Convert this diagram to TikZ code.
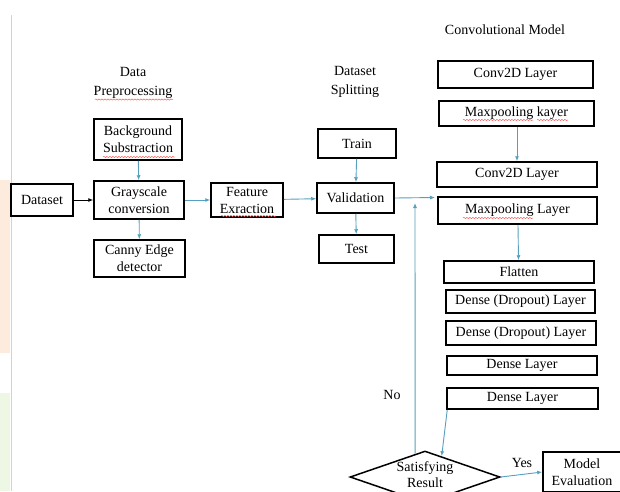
\documentclass[tikz,border=0pt]{standalone}
\usepackage{fontspec}
\setmainfont{Liberation Serif}
\usetikzlibrary{arrows.meta,shapes.geometric,calc,decorations.pathmorphing}
\definecolor{arr}{RGB}{84,160,190}
\definecolor{orangebg}{RGB}{253,236,222}
\definecolor{greenbg}{RGB}{238,247,228}
\begin{document}
\begin{tikzpicture}[x=1pt,y=-1pt,
  box/.style={draw=black,line width=1.5pt,inner sep=0pt,align=center,font=\fontsize{14}{17}\selectfont},
  ttl/.style={align=center,font=\fontsize{14}{19}\selectfont},
  conn/.style={draw=arr,line width=0.9pt,-{Latex[length=5pt,width=4pt]}},
  blk/.style={draw=black,line width=0.9pt,-{Latex[length=5pt,width=4pt]}},
  squig/.style={red!65,line width=0.5pt,decorate,decoration={snake,amplitude=0.6pt,segment length=3pt}}]
\useasboundingbox (0,0) rectangle (620,491);
\clip (0,0) rectangle (620,491);
% left strip
\fill[orangebg] (0,180) rectangle (10,353);
\fill[greenbg] (0,393) rectangle (10,491);
\draw[gray!35,line width=0.6pt] (11.5,15) -- (11.5,491);
% titles
\node[ttl] (tpre) at (133,83) {Data\\Preprocessing};
\node[ttl] (tsplit) at (355,82) {Dataset\\Splitting};
\node[ttl] (tconv) at (505,30) {Convolutional Model};
% preprocessing
\node[box,minimum width=62pt,minimum height=32pt] (ds) at (42,200) {Dataset};
\node[box,minimum width=88pt,minimum height=41pt] (bs) at (138,139.5) {Background\\Substraction};
\node[box,minimum width=90pt,minimum height=38pt] (gray) at (139,200) {Grayscale\\conversion};
\node[box,minimum width=91pt,minimum height=37pt] (canny) at (139.5,258.5) {Canny Edge\\detector};
\node[box,minimum width=72pt,minimum height=34pt] (feat) at (247,200) {Feature\\Exraction};
% splitting
\node[box,minimum width=78pt,minimum height=29pt] (train) at (357,143.5) {Train};
\node[box,minimum width=77pt,minimum height=30pt] (valid) at (355.5,198) {Validation};
\node[box,minimum width=75pt,minimum height=28pt] (test) at (356.5,249) {Test};
% conv model
\node[box,minimum width=155pt,minimum height=27pt] (c1) at (515.5,74.5) {Conv2D Layer};
\node[box,minimum width=155pt,minimum height=25pt] (m1) at (516.5,113.5) {Maxpooling kayer};
\node[box,minimum width=160pt,minimum height=25pt] (c2) at (517,174.5) {Conv2D Layer};
\node[box,minimum width=159pt,minimum height=27pt] (m2) at (517.5,210.5) {Maxpooling Layer};
\node[box,minimum width=150pt,minimum height=22pt] (flat) at (519,272) {Flatten};
\node[box,minimum width=149pt,minimum height=23pt] (dd1) at (520.5,301.5) {Dense (Dropout) Layer};
\node[box,minimum width=150pt,minimum height=24pt] (dd2) at (521,333) {Dense (Dropout) Layer};
\node[box,minimum width=150pt,minimum height=19pt] (d1) at (522,365.5) {Dense Layer};
\node[box,minimum width=151pt,minimum height=21pt] (d2) at (522.5,398.5) {Dense Layer};
% decision
\node[box,diamond,aspect=2.9,minimum width=150pt,minimum height=52pt] (dia) at (425,477) {};
\node[align=center,inner sep=0pt,font=\fontsize{14}{16}\selectfont] (diatext) at (425,474.5) {Satisfying\\Result};
\node[box,minimum width=78pt,minimum height=40pt] (me) at (582,472) {Model\\Evaluation};
\node[ttl] (yes) at (522,463) {Yes};
\node[ttl] (no) at (392,395) {No};
\coordinate (vend) at (435,197.5);
\coordinate (noend) at (415,203);
% connectors
\draw[blk] (ds) -- (gray);
\draw[conn] (bs) -- (gray);
\draw[conn] (gray) -- (canny);
\draw[conn] (gray) -- (feat);
\draw[conn] (feat) -- (valid);
\draw[conn] (train) -- (valid);
\draw[conn] (valid) -- (test);
\draw[conn] (valid.east) -- (vend);
\draw[conn] ($(m1.south)+(0.5,0)$) -- ($(c2.north)+(0,0)$);
\draw[conn] ($(m2.south)+(0.5,0)$) -- ($(flat.north)+(-0.5,0)$);
\draw[conn] ($(d2.south west)+(1,0)$) -- ($(dia.north)!0.22!(dia.east)$);
\draw[conn] ($(dia.west)!0.87!(dia.north)$) -- (noend);
\draw[conn] (dia.east) -- (me.west);
% spell-check squiggles
\draw[squig] (95,99.5) -- (173,99.5);
\draw[squig] (103,157) -- (175,157);
\draw[squig] (221,216) -- (276,216);
\draw[squig] (463,120) -- (533,120);
\draw[squig] (537,120) -- (568,120);
\draw[squig] (463,218) -- (533,218);
\end{tikzpicture}
\end{document}
